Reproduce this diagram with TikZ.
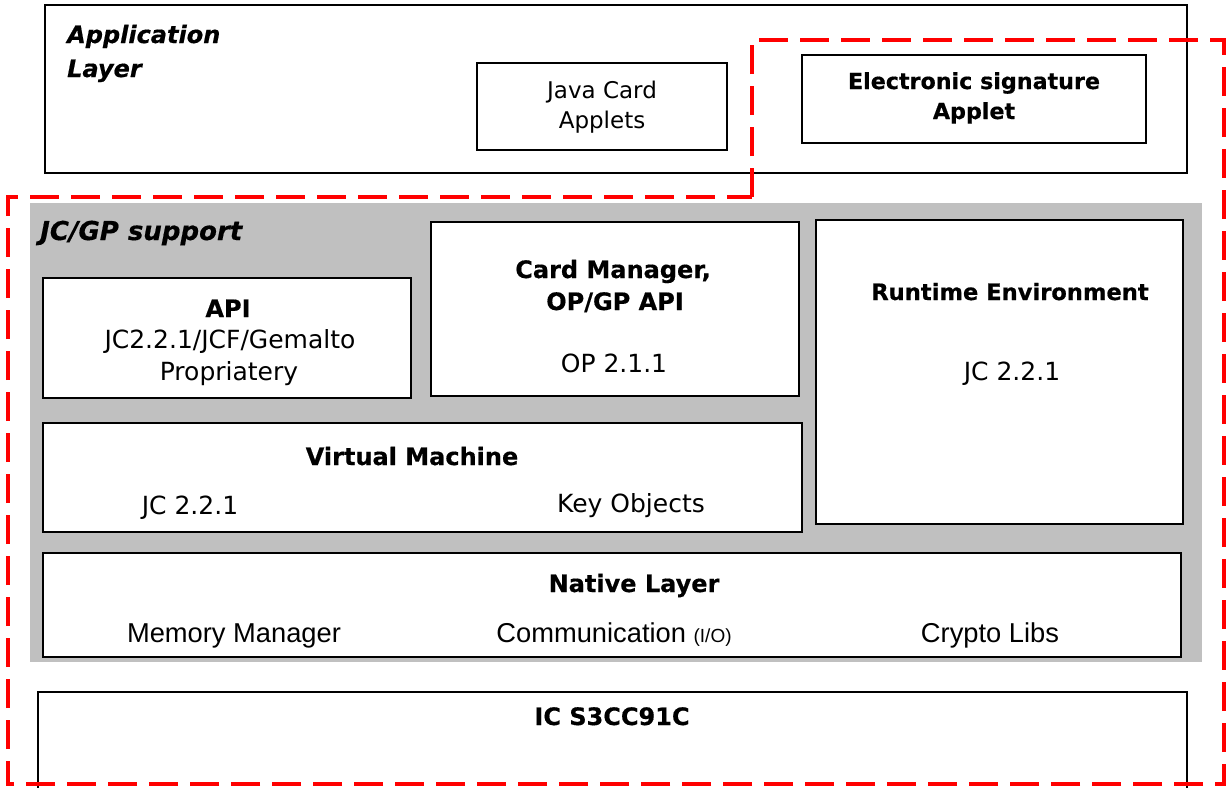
\documentclass[tikz,border=0pt]{standalone}
\usepackage{fontspec}
\setmainfont{DejaVu Sans}[BoldFeatures={FakeBold=0.5}, BoldItalicFeatures={FakeBold=0.5}]
\newfontfamily\arialfont{Liberation Sans}
\usetikzlibrary{fit}

\definecolor{jcgray}{RGB}{192,192,192}
\definecolor{sigred}{RGB}{255,0,0}

\tikzset{
	box/.style={draw, line width=1.6pt, fill=white, inner sep=0pt},
	lbl/.style={inner sep=0pt, anchor=base, font=\fontsize{25}{30}\selectfont},
	bold/.style={lbl, font=\fontsize{24}{30}\selectfont\bfseries},
	boldit/.style={lbl, anchor=base west, font=\fontsize{24}{30}\selectfont\bfseries\itshape},
	arial/.style={lbl, font=\fontsize{27.3}{30}\arialfont},
	sigline/.style={draw=sigred, line width=3.5pt, dash pattern=on 29pt off 12pt}
}

\begin{document}
\begin{tikzpicture}[x=1pt, y=-1pt]
	\useasboundingbox (0,0) rectangle (1228,787);

	% application layer
	\node[box, fit={(45,5) (1187,173)}] (app) {};
	\node[boldit] (apptitle) at (67,43) {Application};
	\node[boldit] (apptitle2) at (67,77) {Layer};
	\node[box, fit={(477,63) (727,150)}] (applets) {};
	\node[lbl, font=\fontsize{23}{30}\selectfont] (applets1) at (602,98) {Java Card};
	\node[lbl, font=\fontsize{23}{30}\selectfont] (applets2) at (602,128) {Applets};
	\node[box, fit={(802,55) (1146,143)}] (esig) {};
	\node[bold, font=\fontsize{22.2}{30}\selectfont\bfseries] (esig1) at (974,89) {Electronic signature};
	\node[bold, font=\fontsize{22.2}{30}\selectfont\bfseries] (esig2) at (974,119) {Applet};

	% JC/GP support
	\node[fill=jcgray, inner sep=0pt, fit={(30,203) (1202,662)}] (jcgp) {};
	\node[boldit, font=\fontsize{26}{30}\selectfont\bfseries\itshape] (jcgptitle) at (40,240) {JC/GP support};

	\node[box, fit={(43,278) (411,398)}] (api) {};
	\node[bold] (api1) at (228,317) {API};
	\node[lbl] (api2) at (230,348) {JC2.2.1/JCF/Gemalto};
	\node[lbl] (api3) at (229,380) {Propriatery};

	\node[box, fit={(431,222) (799,396)}] (cm) {};
	\node[bold] (cm1) at (613,278) {Card Manager,};
	\node[bold] (cm2) at (615,310) {OP/GP API};
	\node[lbl] (cm3) at (614,372) {OP 2.1.1};

	\node[box, fit={(816,220) (1183,524)}] (re) {};
	\node[bold, font=\fontsize{22.6}{30}\selectfont\bfseries] (re1) at (1010,300) {Runtime Environment};
	\node[lbl] (re2) at (1012,380) {JC 2.2.1};

	\node[box, fit={(43,423) (802,532)}] (vm) {};
	\node[bold] (vm1) at (412,465) {Virtual Machine};
	\node[lbl] (vm2) at (190,514) {JC 2.2.1};
	\node[lbl] (vm3) at (631,512) {Key Objects};

	\node[box, fit={(43,553) (1181,657)}] (native) {};
	\node[bold] (native1) at (634,592) {Native Layer};
	\node[arial] (native2) at (234,642) {Memory Manager};
	\node[arial] (native3) at (614,642) {Communication {\fontsize{19}{22}\selectfont(I/O)}};
	\node[arial] (native4) at (990,642) {Crypto Libs};

	% chip
	\node[box, fit={(38,692) (1187,800)}] (ic) {};
	\node[bold] (ic1) at (612,725) {IC S3CC91C};

	% signature scope
	\draw[sigline] (752,197) -- (752,40) -- (1224,40) -- (1224,784) -- (8,784) -- (8,197) -- cycle;
\end{tikzpicture}
\end{document}
